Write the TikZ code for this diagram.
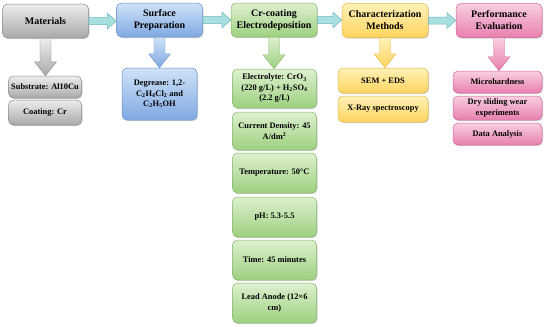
\documentclass[tikz,border=0pt]{standalone}
\usepackage{fontspec}
\setmainfont{Liberation Serif}
\usetikzlibrary{calc,shadows}

\definecolor{grisH}{HTML}{EDEDED}\definecolor{grisB}{HTML}{A9A9A9}\definecolor{grisT}{HTML}{8A8A8A}
\definecolor{bleuH}{HTML}{CFE2F8}\definecolor{bleuB}{HTML}{7FA9E2}\definecolor{bleuT}{HTML}{6A90C8}
\definecolor{vertH}{HTML}{DDF0CF}\definecolor{vertB}{HTML}{9DD07F}\definecolor{vertT}{HTML}{86B66B}
\definecolor{jauneH}{HTML}{FFF1B8}\definecolor{jauneB}{HTML}{FFD45E}\definecolor{jauneT}{HTML}{E3B842}
\definecolor{roseH}{HTML}{F9CFE1}\definecolor{roseB}{HTML}{E880AE}\definecolor{roseT}{HTML}{CF6494}
\definecolor{flecheF}{HTML}{A8E0E0}\definecolor{flecheT}{HTML}{70B5B9}

% fleche horizontale entre deux blocs
\newcommand{\harrow}[2]{%
  \path let \p1=(#1.east), \p2=(#2.west) in
    [draw=flecheT, fill=flecheF, line width=0.5pt]
    (\x1,\y1+3.5pt) -- (\x2-9pt,\y1+3.5pt) -- (\x2-9pt,\y1+8pt) -- (\x2,\y1)
    -- (\x2-9pt,\y1-8pt) -- (\x2-9pt,\y1-3.5pt) -- (\x1,\y1-3.5pt) -- cycle;}
% fleche verticale vers la colonne
\newcommand{\varrow}[3]{%
  \path let \p1=(#1.south), \p2=(#2.north) in
    [draw=#3T, top color=#3H, bottom color=#3B, line width=0.4pt]
    (\x1-5.5pt,\y1) -- (\x1-5.5pt,\y2+14pt) -- (\x1-11pt,\y2+14pt) -- (\x1,\y2)
    -- (\x1+11pt,\y2+14pt) -- (\x1+5.5pt,\y2+14pt) -- (\x1+5.5pt,\y1) -- cycle;}

\begin{document}
\begin{tikzpicture}[x=1pt, y=-1pt,
    bloc/.style={draw=#1T, top color=#1H, bottom color=#1B, rounded corners=5pt,
      align=center, inner sep=1pt, line width=0.5pt,
      drop shadow={shadow xshift=1pt, shadow yshift=-1.2pt, opacity=0.35}},
    titre/.style={bloc=#1, minimum width=86pt, minimum height=34pt,
      font=\fontsize{10}{12}\selectfont\bfseries},
    detail/.style={bloc=#1, font=\fontsize{8.4}{10.5}\selectfont\bfseries}]
    \useasboundingbox (0,0) rectangle (550,327);

    % Blocs principaux
    \node[titre=gris]  (mat)  at (45.5,21) {Materials};
    \node[titre=bleu]  (surf) at (159.5,20) {Surface\\Preparation};
    \node[titre=vert]  (cr)   at (274,20)   {Cr-coating\\Electrodeposition};
    \node[titre=jaune] (car)  at (385,20.5) {Characterization\\Methods};
    \node[titre=rose]  (perf) at (499,20.5) {Performance\\Evaluation};

    % Liens entre etapes
    \harrow{mat}{surf}
    \harrow{surf}{cr}
    \harrow{cr}{car}
    \harrow{car}{perf}

    % Colonne materiaux
    \node[detail=gris, minimum width=73pt, minimum height=22pt] (sub) at (45,87) {Substrate: Al10Cu};
    \node[detail=gris, minimum width=73pt, minimum height=25pt] (coat) at (45,112.5) {Coating: Cr};

    % Colonne preparation
    \node[detail=bleu, minimum width=75pt, minimum height=52pt] (deg) at (159.5,94)
      {Degrease: 1,2-\\C\textsubscript{2}H\textsubscript{4}Cl\textsubscript{2} and\\C\textsubscript{2}H\textsubscript{5}OH};

    % Colonne electrodeposition
    \node[detail=vert, minimum width=84pt, minimum height=39pt] (elec) at (274.5,88.5)
      {Electrolyte: CrO\textsubscript{3}\\(220 g/L) + H\textsubscript{2}SO\textsubscript{4}\\(2.2 g/L)};
    \node[detail=vert, minimum width=84pt, minimum height=38pt] (dens) at (274.5,131) {Current Density: 45\\A/dm\textsuperscript{2}};
    \node[detail=vert, minimum width=84pt, minimum height=40pt] (temp) at (274.5,173) {Temperature: 50°C};
    \node[detail=vert, minimum width=84pt, minimum height=40pt] (ph)   at (274.5,217) {pH: 5.3-5.5};
    \node[detail=vert, minimum width=84pt, minimum height=40pt] (tps)  at (274.5,260) {Time: 45 minutes};
    \node[detail=vert, minimum width=84pt, minimum height=40pt] (anode) at (274.5,303) {Lead Anode (12×6\\cm)};

    % Colonne caracterisation
    \node[detail=jaune, minimum width=90pt, minimum height=25pt] (sem) at (383,80.5) {SEM + EDS};
    \node[detail=jaune, minimum width=90pt, minimum height=26pt] (xray) at (383,109) {X-Ray spectroscopy};

    % Colonne evaluation
    \node[detail=rose, minimum width=89pt, minimum height=22pt] (micro) at (497.5,82) {Microhardness};
    \node[detail=rose, minimum width=89pt, minimum height=24pt] (usure) at (497.5,108) {Dry sliding wear\\experiments};
    \node[detail=rose, minimum width=89pt, minimum height=22pt] (data) at (497.5,134) {Data Analysis};

    % Fleches vers les colonnes
    \varrow{mat}{sub}{gris}
    \varrow{surf}{deg}{bleu}
    \varrow{cr}{elec}{vert}
    \varrow{car}{sem}{jaune}
    \varrow{perf}{micro}{rose}
\end{tikzpicture}
\end{document}
